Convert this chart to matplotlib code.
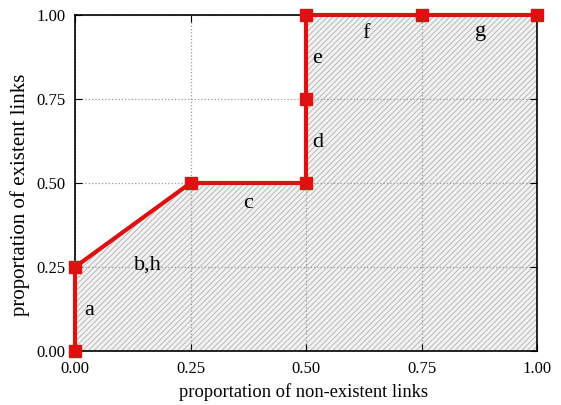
import matplotlib
matplotlib.use('Agg')
import matplotlib.pyplot as plt

# ROC-like step curve
fpr = [0.0, 0.0, 0.25, 0.5, 0.5, 0.5, 0.75, 1.0]
tpr = [0.0, 0.25, 0.5, 0.5, 0.75, 1.0, 1.0, 1.0]

seg_labels = ['a', 'b,h', 'c', 'd', 'e', 'f', 'g']
label_x = [0.03, 0.158, 0.374, 0.526, 0.524, 0.63, 0.877]
label_y = [0.12, 0.256, 0.44, 0.62, 0.872, 0.945, 0.95]

ticks = [0.0, 0.25, 0.5, 0.75, 1.0]

plt.rcParams['font.family'] = ['Liberation Serif', 'DejaVu Serif']
plt.rcParams['hatch.color'] = '#b0b0b0'
plt.rcParams['hatch.linewidth'] = 0.6

fig = plt.figure(figsize=(5.61, 4.05), dpi=100)
ax = fig.add_axes([75 / 561, 1 - 351 / 405, 462 / 561, 336 / 405])

ax.fill_between(fpr, tpr, 0, facecolor='#f2f2f2', edgecolor='#b0b0b0',
                hatch='//////', linewidth=0, zorder=1)
ax.plot(fpr, tpr, color='#dd1111', linewidth=3, marker='s', markersize=8,
        clip_on=False, zorder=5)

for lab, x, y in zip(seg_labels, label_x, label_y):
    ax.text(x, y, lab, fontsize=16, ha='center', va='center', zorder=6)

ax.set_xlim(0, 1)
ax.set_ylim(0, 1)
ax.set_xticks(ticks)
ax.set_yticks(ticks)
ax.set_xticklabels(['%.2f' % t for t in ticks])
ax.set_yticklabels(['%.2f' % t for t in ticks])
ax.tick_params(direction='in', top=True, right=True, labelsize=12, length=5, pad=7)
ax.grid(True, linestyle=':', color='#999999', linewidth=0.9, zorder=2)
ax.set_axisbelow(False)
for sp in ax.spines.values():
    sp.set_linewidth(1.2)
    sp.set_zorder(4)

ax.set_xlabel('proportation of non-existent links', fontsize=13.3, va='center')
ax.set_ylabel('proportation of existent links', fontsize=15, va='center')
ax.xaxis.set_label_coords(0.494, -0.122)
ax.yaxis.set_label_coords(-0.119, 0.466)

fig.savefig('out.png', dpi=100)
